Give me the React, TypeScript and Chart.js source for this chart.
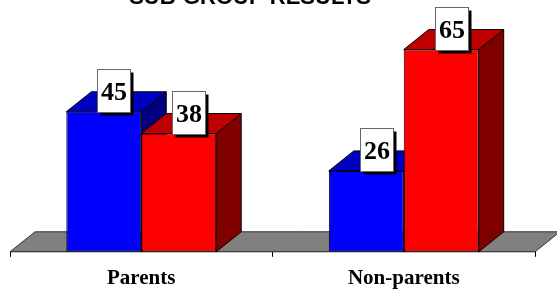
import React, { useEffect, useRef } from "react";
import { Chart, registerables } from "chart.js";

Chart.register(...registerables);

const TITLE = "SUB-GROUP RESULTS";
const categories = ["Parents", "Non-parents"];
const seriesNames = ["Series 1", "Series 2"];
const blueValues = [45, 26];
const redValues = [38, 65];
const yMax = 70;

const DX = 25;
const DY = 20;

const faceColors = [
  { front: "#0000FF", top: "#0000C0", side: "#000080" },
  { front: "#FF0000", top: "#C00000", side: "#800000" },
];

function poly(ctx: CanvasRenderingContext2D, pts: number[][], fill: string, stroke: string) {
  ctx.beginPath();
  ctx.moveTo(pts[0][0], pts[0][1]);
  for (let i = 1; i < pts.length; i++) ctx.lineTo(pts[i][0], pts[i][1]);
  ctx.closePath();
  ctx.fillStyle = fill;
  ctx.fill();
  ctx.strokeStyle = stroke;
  ctx.lineWidth = 1;
  ctx.stroke();
}

const threeD = {
  id: "threeD",
  beforeDatasetsDraw(chart: any) {
    const ctx: CanvasRenderingContext2D = chart.ctx;
    const { left, right, bottom } = chart.chartArea;
    ctx.save();
    poly(
      ctx,
      [
        [left, bottom],
        [right, bottom],
        [right + DX, bottom - DY],
        [left + DX, bottom - DY],
      ],
      "#808080",
      "#333333"
    );
    chart.data.datasets.forEach((_: any, di: number) => {
      const meta = chart.getDatasetMeta(di);
      const col = faceColors[di];
      meta.data.forEach((bar: any) => {
        const { x, y, base, width } = bar.getProps(["x", "y", "base", "width"], true);
        const l = x - width / 2;
        const r = x + width / 2;
        poly(ctx, [[r, y], [r + DX, y - DY], [r + DX, base - DY], [r, base]], col.side, "#000");
        poly(ctx, [[l, y], [r, y], [r + DX, y - DY], [l + DX, y - DY]], col.top, "#000");
      });
    });
    ctx.restore();
  },
  afterDatasetsDraw(chart: any) {
    const ctx: CanvasRenderingContext2D = chart.ctx;
    ctx.save();
    chart.data.datasets.forEach((ds: any, di: number) => {
      const meta = chart.getDatasetMeta(di);
      meta.data.forEach((bar: any, i: number) => {
        const { x, y } = bar.getProps(["x", "y"], true);
        const w = 33;
        const h = 43;
        const bx = Math.round(x + 10 - w / 2) + 0.5;
        const by = Math.round(y - h) + 0.5;
        ctx.fillStyle = "#000";
        ctx.fillRect(bx + 3, by + 3, w, h);
        ctx.fillStyle = "#fff";
        ctx.fillRect(bx, by, w, h);
        ctx.strokeStyle = "#666";
        ctx.lineWidth = 1;
        ctx.strokeRect(bx, by, w, h);
        ctx.fillStyle = "#000";
        ctx.font = 'bold 26px "Liberation Serif"';
        ctx.textAlign = "center";
        ctx.textBaseline = "middle";
        ctx.fillText(String(ds.data[i]), bx + w / 2, by + h / 2 + 2);
      });
    });
    ctx.restore();
  },
  afterDraw(chart: any) {
    const ctx: CanvasRenderingContext2D = chart.ctx;
    ctx.save();
    ctx.fillStyle = "#000";
    ctx.font = 'bold 22px "Liberation Sans"';
    ctx.textAlign = "center";
    ctx.textBaseline = "alphabetic";
    ctx.fillText(TITLE, 250, 4);
    ctx.restore();
  },
};

export default function App() {
  const ref = useRef<HTMLCanvasElement>(null);
  useEffect(() => {
    if (!ref.current) return;
    const chart = new Chart(ref.current, {
      type: "bar",
      data: {
        labels: categories,
        datasets: [
          {
            label: seriesNames[0],
            data: blueValues,
            backgroundColor: faceColors[0].front,
            borderColor: "#000",
            borderWidth: 1,
            borderSkipped: false,
          },
          {
            label: seriesNames[1],
            data: redValues,
            backgroundColor: faceColors[1].front,
            borderColor: "#000",
            borderWidth: 1,
            borderSkipped: false,
          },
        ],
      },
      options: {
        responsive: false,
        animation: false,
        devicePixelRatio: 1,
        layout: { padding: { left: 10, right: 22, top: 34, bottom: -10 } },
        datasets: { bar: { categoryPercentage: 0.571, barPercentage: 1 } },
        plugins: {
          legend: { display: false },
          title: { display: false },
          tooltip: { enabled: false },
        },
        scales: {
          x: {
            grid: {
              offset: true,
              drawOnChartArea: false,
              color: "#000",
              tickLength: 5,
            },
            border: { display: true, color: "#000" },
            ticks: {
              color: "#000",
              padding: 9,
              font: { family: '"Liberation Serif"', size: 21, weight: "bold" },
            },
          },
          y: {
            display: false,
            min: 0,
            max: yMax,
          },
        },
      },
      plugins: [threeD],
    });
    return () => chart.destroy();
  }, []);
  return (
    <div style={{ position: "absolute", left: 0, top: 0, width: 557, height: 290, background: "#fff" }}>
      <canvas ref={ref} width={557} height={290} />
    </div>
  );
}
